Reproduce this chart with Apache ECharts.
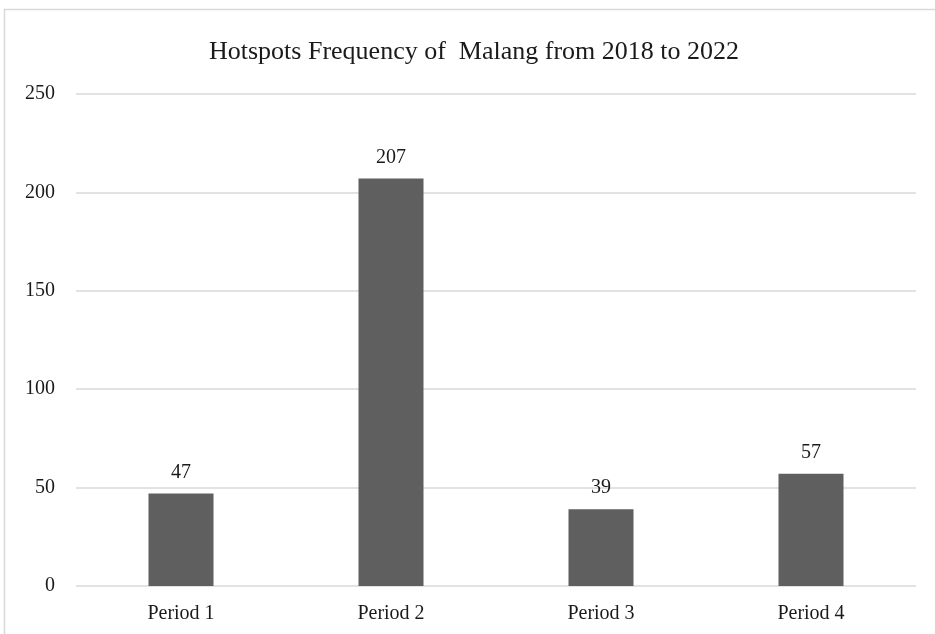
<!DOCTYPE html>
<html>
<head>
<meta charset="utf-8">
<script src="https://cdn.jsdelivr.net/npm/echarts@6/dist/echarts.min.js"></script>
<style>
  html, body { margin: 0; padding: 0; background: #fff; }
  #chart { width: 935px; height: 634px; }
</style>
</head>
<body>
<div id="chart"></div>
<script>
// data
var periods = ['Period 1', 'Period 2', 'Period 3', 'Period 4'];
var hotspots = [47, 207, 39, 57];

var chart = echarts.init(document.getElementById('chart'));
var serif = '"Liberation Serif", "Times New Roman", serif';

var option = {
  backgroundColor: '#fff',
  animation: false,
  graphic: [{
    // outer frame of the original chart area (cropped at right/bottom)
    type: 'rect',
    shape: { x: 4.5, y: 9.5, width: 1000, height: 700 },
    style: { fill: 'none', stroke: '#d9d9d9', lineWidth: 1.5 },
    silent: true
  }],
  title: {
    text: 'Hotspots Frequency of  Malang from 2018 to 2022',
    left: 204,
    top: 34,
    textStyle: { fontFamily: serif, fontSize: 26, fontWeight: 'normal', color: '#1a1a1a' }
  },
  grid: { left: 76, right: 19, top: 94, bottom: 48 },
  xAxis: {
    type: 'category',
    data: periods,
    axisLine: { show: false },
    axisTick: { show: false },
    axisLabel: { fontFamily: serif, fontSize: 20, color: '#1a1a1a', margin: 18 }
  },
  yAxis: {
    type: 'value',
    min: 0,
    max: 250,
    interval: 50,
    axisLine: { show: false },
    axisTick: { show: false },
    axisLabel: { fontFamily: serif, fontSize: 20, color: '#1a1a1a', margin: 21 },
    splitLine: { lineStyle: { color: '#d9d9d9', width: 1.5 } }
  },
  series: [{
    type: 'bar',
    data: hotspots,
    barWidth: 65,
    itemStyle: { color: '#5f5f5f' },
    label: {
      show: true,
      position: 'top',
      distance: 11,
      fontFamily: serif,
      fontSize: 20,
      color: '#1a1a1a'
    }
  }]
};

chart.setOption(option);
</script>
</body>
</html>
